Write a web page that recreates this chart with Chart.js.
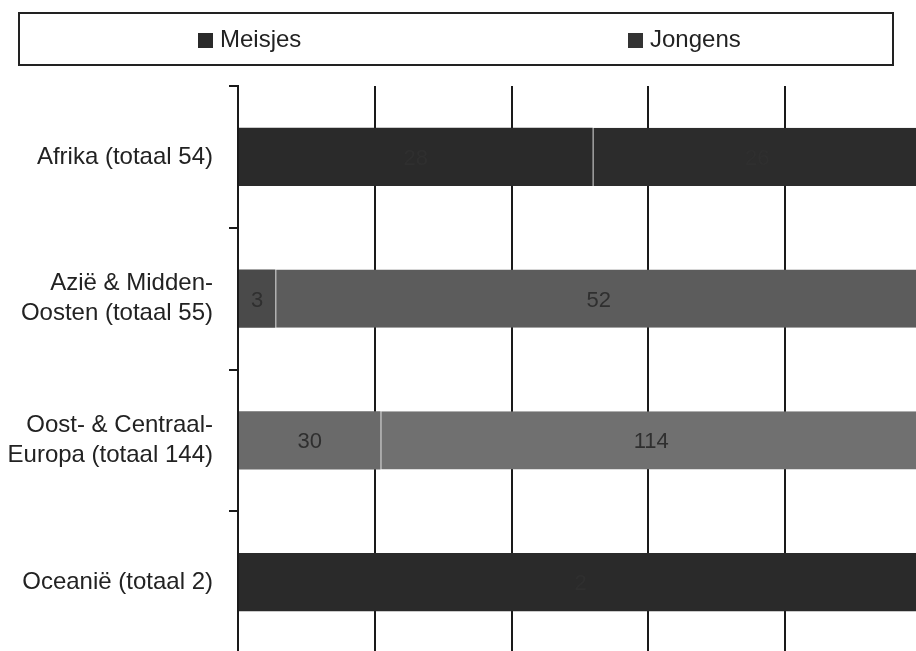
<!DOCTYPE html>
<html>
<head>
<meta charset="utf-8">
<script src="https://cdn.jsdelivr.net/npm/chart.js@4.4.1/dist/chart.umd.min.js"></script>
<style>
    html, body { margin: 0; padding: 0; background: #fff; overflow: hidden; }
    #wrap { position: relative; width: 916px; height: 651px; overflow: hidden; }
    #chartBox { position: absolute; left: 0; top: 0; width: 922px; height: 684px; }
    #legend {
        position: absolute; left: 18px; top: 12px; width: 872px; height: 50px;
        border: 2px solid #222; font-family: "Liberation Sans", Arial, sans-serif;
        font-size: 24px; color: #222;
    }
    .item { position: absolute; top: 11px; line-height: 28px; }
    .swatch { display: inline-block; width: 15px; height: 15px; margin-right: 7px; vertical-align: -1px; }
</style>
</head>
<body>
<div id="wrap">
    <div id="chartBox"><canvas id="regioChart"></canvas></div>
    <div id="legend"></div>
</div>
<script>
document.addEventListener("DOMContentLoaded", function () {

    const categories = [
        ["Afrika (totaal 54)"],
        ["Azië & Midden-", "Oosten (totaal 55)"],
        ["Oost- & Centraal-", "Europa (totaal 144)"],
        ["Oceanië (totaal 2)"]
    ];
    const meisjes = [28, 3, 30, 2];
    const jongens = [26, 52, 114, 0];

    // bar shades vary per region in the scanned original
    const meisjesColors = ["#2a2a2a", "#4a4a4a", "#6a6a6a", "#2a2a2a"];
    const jongensColors = ["#2c2c2c", "#5c5c5c", "#707070", "#2a2a2a"];

    const totals = meisjes.map((m, i) => m + jongens[i]);
    const pct = (arr) => arr.map((v, i) => v / totals[i] * 100);

    const fontFamily = "'Liberation Sans', Arial, sans-serif";
    const ctx = document.getElementById("regioChart");

    // count labels inside the segments, same dark ink as the scan
    const valueLabels = {
        id: "valueLabels",
        afterDatasetsDraw(chart) {
            const c = chart.ctx;
            c.save();
            c.font = "22px " + fontFamily;
            c.textAlign = "center";
            c.textBaseline = "middle";
            c.fillStyle = "#2f2f2f";
            chart.data.datasets.forEach((ds, di) => {
                const meta = chart.getDatasetMeta(di);
                meta.data.forEach((bar, i) => {
                    const v = ds.counts[i];
                    if (!v) return;
                    const p = bar.getProps(["x", "base", "y"], true);
                    c.fillText(String(v), (p.x + p.base) / 2, p.y + 2);
                });
            });
            c.restore();
        }
    };

    const chart = new Chart(ctx, {
        type: "bar",
        data: {
            labels: categories,
            datasets: [
                {
                    label: "Meisjes",
                    data: pct(meisjes),
                    counts: meisjes,
                    backgroundColor: meisjesColors,
                    legendColor: "#2a2a2a"
                },
                {
                    label: "Jongens",
                    data: pct(jongens),
                    counts: jongens,
                    backgroundColor: jongensColors,
                    borderColor: "#b8b8b8",
                    borderWidth: { left: 1 },
                    borderSkipped: false,
                    legendColor: "#333"
                }
            ]
        },
        options: {
            indexAxis: "y",
            responsive: true,
            maintainAspectRatio: false,
            animation: false,
            layout: { padding: { top: 86, left: 0, right: 0, bottom: 0 } },
            datasets: { bar: { categoryPercentage: 0.41, barPercentage: 1.0 } },
            plugins: {
                legend: { display: false },
                tooltip: { enabled: false }
            },
            scales: {
                x: {
                    stacked: true,
                    min: 0,
                    max: 100,
                    afterFit: function (scale) { scale.height = 0; },
                    ticks: { display: false, stepSize: 20 },
                    grid: { color: "#1a1a1a", lineWidth: 2, drawTicks: false },
                    border: { display: false }
                },
                y: {
                    stacked: true,
                    afterFit: function (scale) { scale.width = 238; },
                    ticks: {
                        color: "#222",
                        font: { family: fontFamily, size: 24, lineHeight: 1.25 },
                        padding: 16
                    },
                    grid: { drawOnChartArea: false, color: "#1a1a1a", lineWidth: 2, tickLength: 9, offset: true },
                    border: { color: "#1a1a1a", width: 2 }
                }
            }
        },
        plugins: [valueLabels]
    });

    const legend = document.getElementById("legend");
    const positions = [178, 608];
    chart.data.datasets.forEach((ds, i) => {
        const item = document.createElement("div");
        item.className = "item";
        item.style.left = positions[i] + "px";
        item.innerHTML = '<span class="swatch" style="background:' + ds.legendColor + '"></span>' + ds.label;
        legend.appendChild(item);
    });

});
</script>
</body>
</html>
